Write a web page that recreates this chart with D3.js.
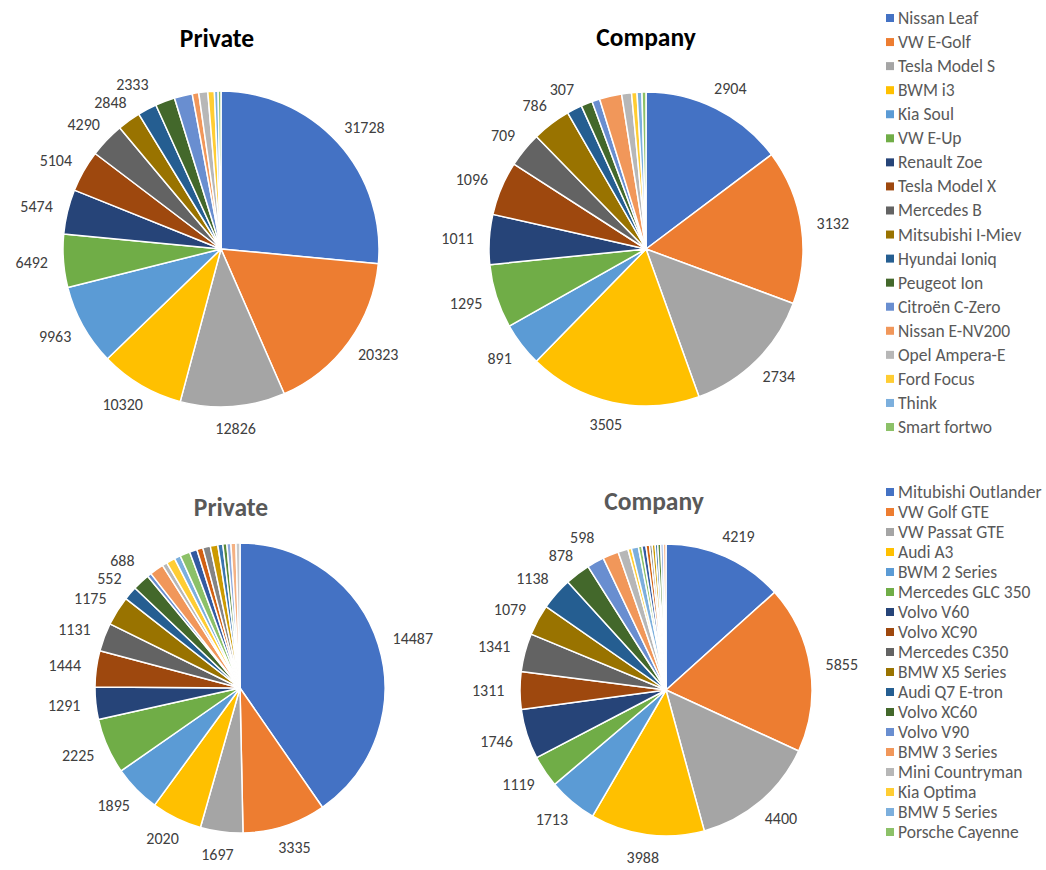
<!DOCTYPE html>
<html><head><meta charset="utf-8">
<script src="https://cdn.jsdelivr.net/npm/d3@7"></script>
<style>
body{margin:0;background:#fff}
text{font-family:Carlito, Lato, "Liberation Sans", sans-serif}
</style>
</head><body>
<svg id="c" width="1046" height="870"></svg>
<script>
// ---------- DATA ----------
const bevNames = ["Nissan Leaf","VW E-Golf","Tesla Model S","BWM i3","Kia Soul","VW E-Up","Renault Zoe","Tesla Model X","Mercedes B","Mitsubishi I-Miev","Hyundai Ioniq","Peugeot Ion","Citroën C-Zero","Nissan E-NV200","Opel Ampera-E","Ford Focus","Think","Smart fortwo"];
const bevPrivate = [31728,20323,12826,10320,9963,6492,5474,5104,4290,2848,2333,2400,2200,800,1100,800,450,350];
const bevCompany = [2904,3132,2734,3505,891,1295,1011,1096,709,786,307,230,160,450,200,110,100,80];
const bevPrivateLabeled = 11;
const bevCompanyLabeled = 11;

const phevNames = ["Mitubishi Outlander","VW Golf GTE","VW Passat GTE","Audi A3","BWM 2 Series","Mercedes GLC 350","Volvo V60","Volvo XC90","Mercedes C350","BMW X5 Series","Audi Q7 E-tron","Volvo XC60","Volvo V90","BMW 3 Series","Mini  Countryman","Kia Optima","BMW 5 Series","Porsche Cayenne"];
// values beyond the 18th are models that the legend does not list
const phevPrivate = [14487,3335,1697,2020,1895,2225,1291,1444,1131,1175,552,688,160,560,200,350,245,400,300,245,300,300,200,160,160,200,160];
const phevCompany = [4219,5855,4400,3988,1713,1119,1746,1311,1341,1079,1138,878,598,555,350,125,245,125,140,125,90,105,90,105,90,90];
const phevPrivateLabeled = 12;
const phevCompanyLabeled = 13;

const titles = ["Private","Company","Private","Company"];

const palette = ["#4472C4","#ED7D31","#A5A5A5","#FFC000","#5B9BD5","#70AD47",
  "#264478","#9E480E","#636363","#997300","#255E91","#43682B",
  "#698ED0","#F1975A","#B7B7B7","#FFCD33","#7CAFDD","#8CC168",
  "#335AA1","#D26012","#848484","#CC9A00","#3A75AE","#5A8A39",
  "#8FAADC","#F4B183","#C9C9C9","#FFD966","#9DC3E6","#A9D18E",
  "#203864","#843C0C","#525252","#7F6000","#1F4E79","#385723"];

// ---------- LAYOUT ----------
const svg = d3.select("#c");
const charts = [
  {values: bevPrivate, labeled: bevPrivateLabeled, title: titles[0], cx: 221, cy: 249, r: 158, tx: 217, ty: 47, tc: "#000000"},
  {values: bevCompany, labeled: bevCompanyLabeled, title: titles[1], cx: 646, cy: 249, r: 157, tx: 646, ty: 46, tc: "#000000"},
  {values: phevPrivate, labeled: phevPrivateLabeled, title: titles[2], cx: 240, cy: 688, r: 145, tx: 231, ty: 516, tc: "#595959"},
  {values: phevCompany, labeled: phevCompanyLabeled, title: titles[3], cx: 666, cy: 690, r: 146, tx: 654, ty: 510, tc: "#595959"}
];

const color = d3.scaleOrdinal().domain(d3.range(palette.length)).range(palette);
const fmt = d3.format("d");

charts.forEach(ch => {
  const g = svg.append("g").attr("transform", `translate(${ch.cx},${ch.cy})`);
  const pie = d3.pie().sort(null).value(d => d)(ch.values);
  const arc = d3.arc().innerRadius(0).outerRadius(ch.r);
  g.selectAll("path").data(pie).join("path")
    .attr("d", arc)
    .attr("fill", (d, i) => color(i))
    .attr("stroke", "#fff").attr("stroke-width", 1.5).attr("stroke-linejoin", "round");

  // labels: outside end
  const off = ch.r + 15;
  const lbl = pie.slice(0, ch.labeled).map(d => {
    const a = (d.startAngle + d.endAngle) / 2;
    const s = Math.sin(a), c = Math.cos(a);
    const txt = fmt(d.value);
    const w = txt.length * 8.4, h = 15;
    return {txt, w, x: s * off + s * w / 2, y: -c * off - c * h / 2};
  });
  // simple de-overlap per side
  const gap = 18;
  ["L","R"].forEach(side => {
    const arr = lbl.filter(l => side === "L" ? l.x < 0 : l.x >= 0).sort((a, b) => a.y - b.y);
    for (let k = arr.length - 1; k > 0; k--) {
      const minW = (arr[k].w + arr[k-1].w) / 2 + 2;
      if (arr[k].y - arr[k-1].y < gap && Math.abs(arr[k].x - arr[k-1].x) < minW) {
        arr[k-1].y = arr[k].y - gap;
      }
    }
  });
  g.selectAll("text.lab").data(lbl).join("text").attr("class","lab")
    .attr("x", d => d.x).attr("y", d => d.y)
    .attr("text-anchor", "middle").attr("dominant-baseline", "central")
    .attr("font-size", 16).attr("fill", "#404040").text(d => d.txt);

  svg.append("text").attr("x", ch.tx).attr("y", ch.ty).attr("text-anchor", "middle")
    .attr("font-size", 25.5).attr("font-weight", "bold").attr("fill", ch.tc).text(ch.title);
});

// ---------- LEGENDS ----------
function legend(names, x, y0, step) {
  const g = svg.append("g");
  const it = g.selectAll("g").data(names).join("g")
    .attr("transform", (d, i) => `translate(${x},${y0 + i * step})`);
  it.append("rect").attr("x", 0).attr("y", -4).attr("width", 8).attr("height", 8)
    .attr("fill", (d, i) => color(i));
  it.append("text").attr("x", 12).attr("y", 0).attr("dominant-baseline", "central")
    .attr("font-size", 17.5).attr("fill", "#595959").text(d => d);
}
legend(bevNames, 886, 18, 24.06);
legend(phevNames, 886, 492, 20);
</script>
</body></html>
